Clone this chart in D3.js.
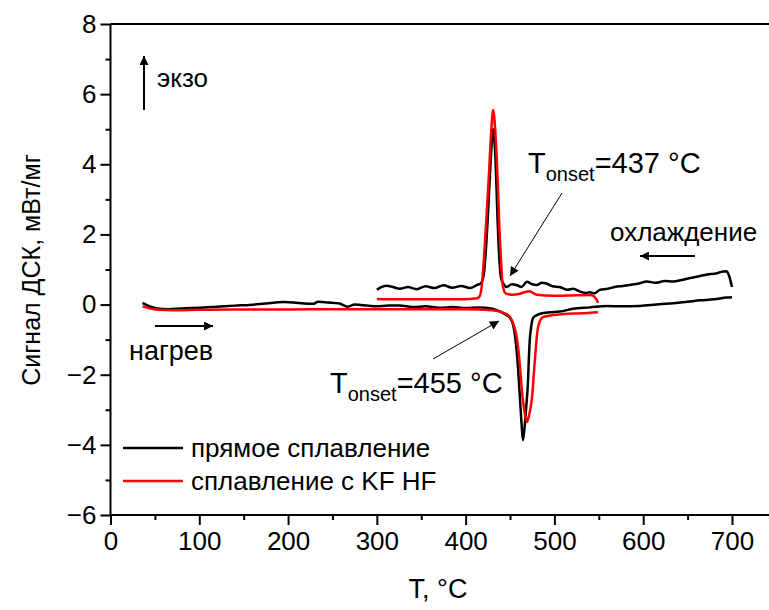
<!DOCTYPE html>
<html>
<head>
<meta charset="utf-8">
<script src="https://cdn.jsdelivr.net/npm/d3@7"></script>
<style>
  body { margin: 0; background: #fff; }
  svg text { font-family: "Liberation Sans", Arial, sans-serif; fill: #000; }
</style>
</head>
<body>
<div id="chart"></div>
<script>
// heating, direct fusion (black)
const heatBlackT = [36, 45, 55, 65, 80, 100, 120, 140, 157, 175, 195, 206, 218, 228, 234, 245, 258, 267, 275, 290,
  300, 313, 326, 340, 355, 370, 385, 400, 415, 430, 439, 446, 450, 454, 457, 459, 461, 463, 464.5, 466,
  468, 470, 472, 474, 476, 480, 484, 495, 506, 521, 540, 559, 575, 596, 615, 634, 650, 664, 680, 694, 700];
const heatBlackV = [0.05, -0.06, -0.12, -0.13, -0.11, -0.09, -0.06, -0.03, -0.01, 0.03, 0.07, 0.06, 0.03, 0.02, 0.08, 0.06, 0.03, -0.06, 0.0, -0.03,
  -0.05, -0.03, -0.03, -0.07, -0.05, -0.09, -0.07, -0.1, -0.08, -0.12, -0.2, -0.3, -0.38, -0.64, -1.2, -1.8, -2.6, -3.4, -3.86, -3.6,
  -3.0, -2.3, -1.1, -0.6, -0.38, -0.3, -0.26, -0.22, -0.2, -0.12, -0.08, -0.04, -0.05, -0.04, 0.0, 0.04, 0.08, 0.12, 0.15, 0.2, 0.21];

// cooling, direct fusion (black)
const coolBlackT = [300, 305, 311, 318, 326, 335, 345, 355, 365, 375, 385, 395, 405, 413, 417, 420, 422, 425, 428, 431,
  433.5, 436, 438, 440, 443, 446, 452, 458, 463, 469, 475, 480, 486, 491, 498, 506, 515, 521, 529, 535,
  540, 545, 551, 560, 568, 577, 585, 595, 604, 614, 624, 634, 643, 653, 662, 672, 680, 690, 694, 697, 700];
const coolBlackV = [0.42, 0.5, 0.54, 0.5, 0.45, 0.5, 0.44, 0.52, 0.47, 0.55, 0.48, 0.53, 0.47, 0.56, 0.6, 0.8, 1.27, 2.5, 4.0, 5.0,
  4.2, 2.4, 1.27, 0.75, 0.58, 0.5, 0.58, 0.55, 0.5, 0.65, 0.58, 0.56, 0.62, 0.6, 0.52, 0.5, 0.42, 0.45, 0.37, 0.33,
  0.35, 0.32, 0.42, 0.45, 0.5, 0.53, 0.56, 0.6, 0.66, 0.62, 0.67, 0.66, 0.7, 0.76, 0.8, 0.86, 0.88, 0.94, 0.95, 0.8, 0.5];

// heating, fusion with KF HF (red)
const heatRedT = [36, 45, 55, 70, 100, 150, 200, 250, 300, 350, 400, 430, 442, 448, 452, 455, 458, 461, 463, 466,
  469, 471, 474.5, 478, 481, 484, 487, 498, 510, 530, 549];
const heatRedV = [-0.05, -0.11, -0.15, -0.16, -0.15, -0.14, -0.14, -0.13, -0.13, -0.13, -0.13, -0.16, -0.23, -0.3, -0.44, -0.65, -1.0, -1.7, -2.34, -3.0,
  -3.35, -3.2, -2.72, -1.58, -0.73, -0.45, -0.36, -0.3, -0.27, -0.25, -0.22];

// cooling, fusion with KF HF (red)
const coolRedT = [300, 320, 350, 380, 400, 410, 413, 416, 418, 420.5, 423, 426, 428.5, 431, 433.5, 436, 438, 440, 441.5, 443,
  445, 453, 460, 467, 472, 476, 480, 490, 506, 520, 540, 544, 546, 548, 549];
const coolRedV = [0.16, 0.15, 0.15, 0.15, 0.15, 0.17, 0.18, 0.25, 0.5, 1.27, 2.3, 3.6, 4.8, 5.55, 4.9, 3.6, 2.2, 1.2, 0.6, 0.42,
  0.32, 0.28, 0.3, 0.36, 0.38, 0.33, 0.28, 0.26, 0.25, 0.26, 0.27, 0.25, 0.19, 0.12, 0.05];

const xMajor = [0, 100, 200, 300, 400, 500, 600, 700];
const xMinor = [50, 150, 250, 350, 450, 550, 650];
const yMajor = [-6, -4, -2, 0, 2, 4, 6, 8];
const yMinor = [-5, -3, -1, 1, 3, 5, 7];

const legendNames = ["прямое сплавление", "сплавление с KF HF"];
const legendColors = ["#000000", "#ff0000"];

const width = 769, height = 610;
const svg = d3.select("#chart").append("svg")
  .attr("width", width).attr("height", height);

const x = d3.scaleLinear().domain([0, 740]).range([110.5, 767.5]);
const y = d3.scaleLinear().domain([-6, 8]).range([515, 24]);

const defs = svg.append("defs");
function marker(id, w, h) {
  defs.append("marker").attr("id", id)
    .attr("viewBox", "0 0 10 10").attr("refX", 10).attr("refY", 5)
    .attr("markerUnits", "userSpaceOnUse")
    .attr("markerWidth", w).attr("markerHeight", h)
    .attr("orient", "auto")
    .append("path").attr("d", "M0,0L10,5L0,10Z").attr("fill", "#000");
}
marker("headBig", 14, 9);
marker("headSmall", 16, 9);

// top frame
svg.append("line")
  .attr("x1", x(0)).attr("x2", width).attr("y1", y(8)).attr("y2", y(8))
  .attr("stroke", "#000").attr("stroke-width", 2);

// axes
const gx = svg.append("g").attr("transform", `translate(0,${y(-6)})`);
gx.call(d3.axisBottom(x).tickValues(xMinor).tickSize(5).tickFormat(""))
  .call(g => g.select(".domain").remove());
gx.append("g").call(d3.axisBottom(x).tickValues(xMajor).tickSize(10).tickSizeOuter(0).tickPadding(7))
  .call(g => g.select(".domain").attr("d", `M${x(0)},0H${width}`));

const gy = svg.append("g").attr("transform", `translate(${x(0)},0)`);
gy.call(d3.axisLeft(y).tickValues(yMinor).tickSize(5).tickFormat(""))
  .call(g => g.select(".domain").remove());
gy.append("g").call(d3.axisLeft(y).tickValues(yMajor).tickSize(10).tickSizeOuter(0).tickPadding(4))
  .call(g => g.select(".domain").attr("d", `M0,${y(-6)}V${y(8)}`));

svg.selectAll(".tick line, .domain").attr("stroke", "#000").attr("stroke-width", 2);
svg.selectAll(".tick text").style("font-size", "26px");

// axis titles
svg.append("text")
  .attr("x", 438).attr("y", 598)
  .attr("text-anchor", "middle").style("font-size", "27px")
  .text("T, °C");
svg.append("text")
  .attr("transform", "translate(40,270) rotate(-90)")
  .attr("text-anchor", "middle").style("font-size", "25px")
  .text("Сигнал ДСК, мВт/мг");

// curves
const line = d3.line().x(d => x(d[0])).y(d => y(d[1])).curve(d3.curveMonotoneX);
const series = [
  { T: heatBlackT, V: heatBlackV, color: legendColors[0] },
  { T: coolBlackT, V: coolBlackV, color: legendColors[0] },
  { T: heatRedT, V: heatRedV, color: legendColors[1] },
  { T: coolRedT, V: coolRedV, color: legendColors[1] }
];
series.forEach(s => {
  svg.append("path")
    .datum(d3.zip(s.T, s.V))
    .attr("d", line)
    .attr("fill", "none")
    .attr("stroke", s.color)
    .attr("stroke-width", 2.5)
    .attr("stroke-linejoin", "round");
});

// legend
legendNames.forEach((name, i) => {
  const ly = 448 + i * 33;
  svg.append("line")
    .attr("x1", 123).attr("x2", 183).attr("y1", ly).attr("y2", ly)
    .attr("stroke", legendColors[i]).attr("stroke-width", 2.5);
  svg.append("text")
    .attr("x", 191).attr("y", ly + 9)
    .style("font-size", "26px")
    .text(name);
});

// annotations
function arrow(x1, y1, x2, y2, w, head) {
  svg.append("line")
    .attr("x1", x1).attr("y1", y1).attr("x2", x2).attr("y2", y2)
    .attr("stroke", "#000").attr("stroke-width", w)
    .attr("marker-end", `url(#${head})`);
}
arrow(144, 110, 144, 56, 2, "headBig");
svg.append("text").attr("x", 157).attr("y", 87).style("font-size", "26px").text("экзо");

arrow(155, 326, 213, 326, 2, "headBig");
svg.append("text").attr("x", 129).attr("y", 360).style("font-size", "27px").text("нагрев");

arrow(695, 256, 640, 256, 2, "headBig");
svg.append("text").attr("x", 610).attr("y", 241).style("font-size", "26px").text("охлаждение");

function onset(tx, ty, value) {
  const t = svg.append("text").attr("x", tx).attr("y", ty).style("font-size", "29px");
  t.append("tspan").text("T");
  t.append("tspan").attr("dy", 8).style("font-size", "20px").text("onset");
  t.append("tspan").attr("dy", -8).text(`=${value} °C`);
}
onset(528, 173, 437);
arrow(562, 193, 510, 276, 1, "headSmall");
onset(330, 393, 455);
arrow(433, 359, 499, 321, 1, "headSmall");
</script>
</body>
</html>
